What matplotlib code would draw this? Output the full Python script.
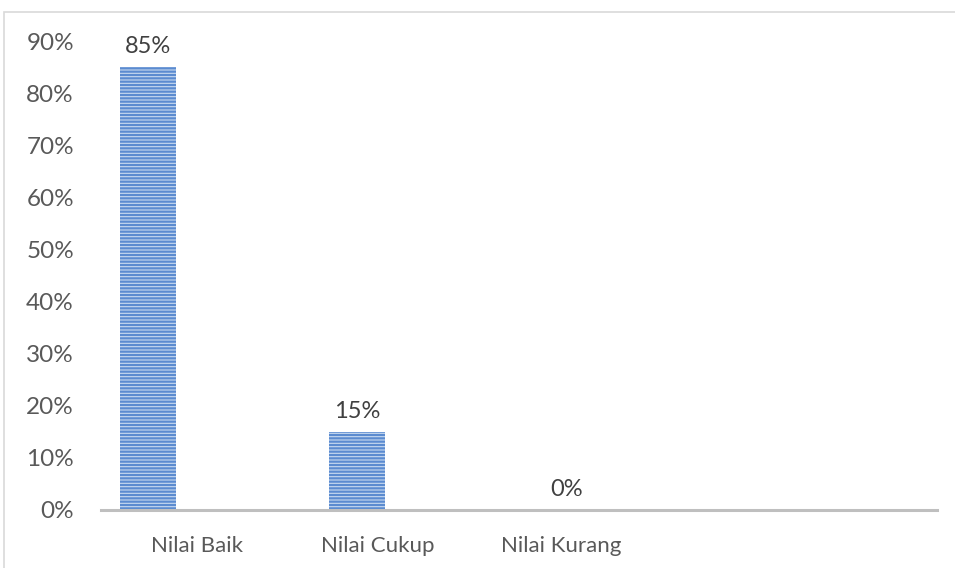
import matplotlib
matplotlib.use("Agg")
import matplotlib.pyplot as plt
from matplotlib.patches import Rectangle
from matplotlib.ticker import FuncFormatter
import numpy as np

plt.rcParams['font.family'] = ['Lato', 'DejaVu Sans']
plt.rcParams['hatch.linewidth'] = 1.6

categories = ["Nilai Baik", "Nilai Cukup", "Nilai Kurang", ""]
values = [0.85, 0.15, 0.0, np.nan]
value_labels = ["85%", "15%", "0%", ""]
yticks = [0.0, 0.1, 0.2, 0.3, 0.4, 0.5, 0.6, 0.7, 0.8, 0.9]
label_pos = [-0.041, 0.825, 1.70]

fig = plt.figure(figsize=(9.55, 5.68), dpi=100)
fig.patches.append(Rectangle((4/955, -0.1), 1.2, (568-12)/568 + 0.1, transform=fig.transFigure,
                             fill=False, edgecolor='#D9D9D9', linewidth=1.2))
ax = fig.add_axes([101/955, (568-510)/568, (937-101)/955, (510-41)/568])

x = np.arange(len(categories))
offset = -0.273
width = 0.268
vals = [0 if np.isnan(v) else v for v in values]
ax.bar(x + offset, vals, width=width, facecolor='#C9DAF0', edgecolor='#5B8BD0',
       hatch='-----', linewidth=0, zorder=2)

for xi, v, lab in zip(x, vals, value_labels):
    if lab:
        ax.annotate(lab, (xi + offset, v), xytext=(0, 7), textcoords='offset points',
                    ha='center', va='bottom', fontsize=17, color='#404040')

ax.set_xlim(-0.5, len(categories) - 0.5)
ax.set_ylim(0, 0.9)
ax.set_yticks(yticks)
ax.yaxis.set_major_formatter(FuncFormatter(lambda v, p: f"{v*100:.0f}%"))
ax.set_xticks(label_pos)
ax.set_xticklabels(categories[:3])
ax.tick_params(axis='both', length=0, colors='#595959')
ax.tick_params(axis='y', pad=19.5, labelsize=17.5)
ax.tick_params(axis='x', pad=19, labelsize=16)
for s in ['top', 'right', 'left']:
    ax.spines[s].set_visible(False)
ax.spines['bottom'].set_color('#BFBFBF')
ax.spines['bottom'].set_linewidth(2.2)
ax.spines['bottom'].set_zorder(3)

fig.savefig("out.png", dpi=100)
